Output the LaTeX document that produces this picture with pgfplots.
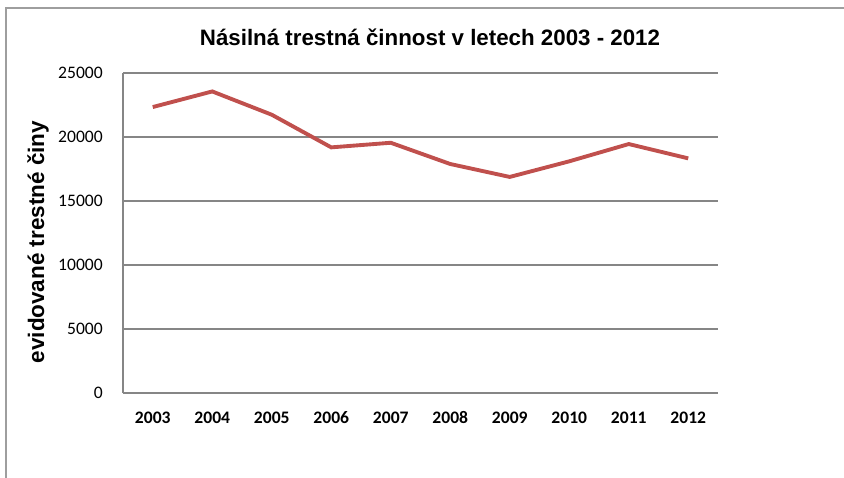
\documentclass[border=0pt]{standalone}
\usepackage{pgfplots}
\pgfplotsset{compat=1.18}
\usepackage{fontspec}
\setmainfont{Liberation Sans}
\newfontfamily\calibri{Carlito}
\definecolor{linered}{HTML}{C0504D}
\definecolor{axgray}{HTML}{868686}
\begin{document}
\begin{tikzpicture}
\path[use as bounding box] (0,0) rectangle (16.88cm,-9.56cm);
\draw[color=axgray!80, line width=0.8pt] (0.12cm,-9.6cm) -- (0.12cm,-0.16cm) -- (16.9cm,-0.16cm);
\begin{axis}[
  at={(2.46cm,-7.86cm)}, anchor=south west,
  scale only axis, width=11.9cm, height=6.4cm,
  xmin=-0.5, xmax=9.5, ymin=0, ymax=25000,
  xtick={0,...,9},
  xticklabels={2003,2004,2005,2006,2007,2008,2009,2010,2011,2012},
  ytick={0,5000,10000,15000,20000,25000},
  scaled y ticks=false,
  ymajorgrids, grid style={color=axgray, line width=0.6pt},
  axis x line*=bottom, axis y line*=left,
  axis line style={color=axgray, line width=1pt, -},
  major tick length=0pt,
  /pgf/number format/assume math mode=true,
  /pgf/number format/1000 sep={},
  yticklabel style={font=\calibri\fontsize{10}{12}\selectfont, xshift=-8pt},
  xticklabel style={font=\calibri\bfseries\fontsize{10}{12}\selectfont, yshift=-7pt},
  clip=false,
]
\addplot[color=linered, line width=2.2pt] coordinates {
(0,22340) (1,23560) (2,21740) (3,19190) (4,19550)
(5,17890) (6,16880) (7,18100) (8,19450) (9,18330)
};
\end{axis}
\node[font=\bfseries\fontsize{12.7}{15}\selectfont] at (8.6cm,-0.74cm) {Násilná trestná činnost v letech 2003 - 2012};
\node[font=\bfseries\fontsize{12.8}{15}\selectfont, rotate=90] at (0.76cm,-4.84cm) {evidované trestné činy};
\end{tikzpicture}
\end{document}
